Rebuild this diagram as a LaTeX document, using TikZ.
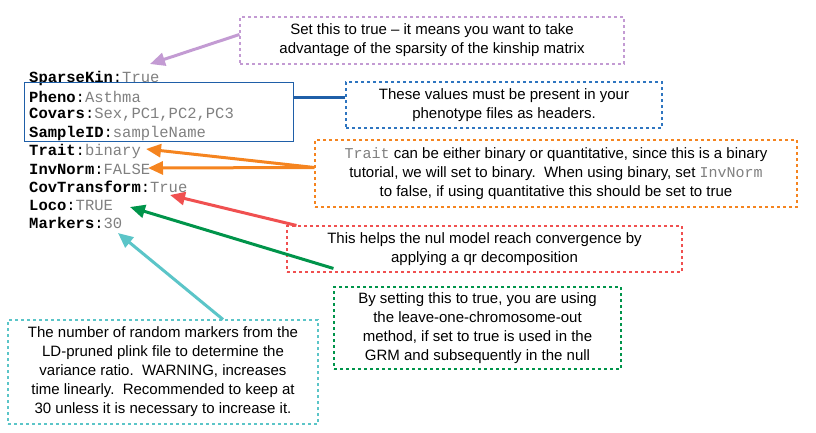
\documentclass[tikz,border=0pt]{standalone}
\usepackage{fontspec}
\setmainfont{Liberation Sans}
\setmonofont{Liberation Mono}
\usetikzlibrary{arrows.meta,positioning}
\definecolor{kinpurple}{HTML}{C39BD3}
\definecolor{hdrblue}{HTML}{1F5FA8}
\definecolor{hdrdot}{HTML}{2E75C0}
\definecolor{trorange}{HTML}{F5841F}
\definecolor{cvred}{HTML}{F05050}
\definecolor{locogreen}{HTML}{00944A}
\definecolor{mkteal}{HTML}{5BC5C8}
\newcommand{\key}[2]{\textbf{#1}:\textcolor{gray}{#2}}
\tikzset{
  code/.style={anchor=west, font=\ttfamily\fontsize{15.5}{17}\selectfont, inner sep=0pt},
  note/.style={draw, dash pattern=on 3pt off 3pt, line width=1.1pt, align=center,
    font=\fontsize{15}{19}\selectfont, inner sep=4pt},
  pointer/.style={line width=3pt, -{Triangle[length=15pt,width=13pt]}}
}
\begin{document}
\begin{tikzpicture}[x=1pt, y=-1pt]
    \useasboundingbox (0,0) rectangle (816,432);

    % code lines
    \node[code] (sparse) at (29, 78) {\key{SparseKin}{True}};
    \node[code] (pheno) at (29, 97) {\key{Pheno}{Asthma}};
    \node[code] (covars) at (29, 115) {\key{Covars}{Sex,PC1,PC2,PC3}};
    \node[code] (sample) at (29, 133) {\key{SampleID}{sampleName}};
    \node[code] (trait) at (29, 151) {\key{Trait}{binary}};
    \node[code] (invnorm) at (29, 169) {\key{InvNorm}{FALSE}};
    \node[code] (covtr) at (29, 187) {\key{CovTransform}{True}};
    \node[code] (loco) at (29, 205) {\key{Loco}{TRUE}};
    \node[code] (markers) at (29, 223) {\key{Markers}{30}};

    \draw[hdrblue, line width=1pt] (24, 82) rectangle (293, 141);
    \coordinate (hdrbox) at (293, 97);

    % notes
    \node[note, draw=kinpurple, minimum width=384pt, minimum height=47pt] (kinnote) at (432, 40.5)
        {Set this to true -- it means you want to take\\advantage of the sparsity of the kinship matrix};
    \node[note, draw=hdrdot, minimum width=316pt, minimum height=46pt] (hdrnote) at (504, 105)
        {These values must be present in your\\phenotype files as headers.};
    \node[note, draw=trorange, minimum width=482pt, minimum height=67pt] (trnote) at (556, 173.5)
        {\textcolor{gray}{\ttfamily Trait} can be either binary or quantitative, since this is a binary\\
         tutorial, we will set to binary.\ \ When using binary, set \textcolor{gray}{\ttfamily InvNorm}\\
         to false, if using quantitative this should be set to true};
    \node[note, draw=cvred, minimum width=395pt, minimum height=46pt] (cvnote) at (484.5, 249)
        {This helps the nul model reach convergence by\\applying a qr decomposition};
    \node[note, draw=locogreen, minimum width=287pt, minimum height=82pt] (loconote) at (477.5, 328)
        {By setting this to true, you are using\\the leave-one-chromosome-out\\method, if set to true is used in the\\GRM and subsequently in the null};
    \node[note, draw=mkteal, minimum width=310pt, minimum height=104pt] (mknote) at (163, 372)
        {The number of random markers from the\\LD-pruned plink file to determine the\\variance ratio.\ \ WARNING, increases\\time linearly.\ \ Recommended to keep at\\30 unless it is necessary to increase it.};

    % pointers
    \draw[pointer, kinpurple] ([yshift=6pt]kinnote.west) -- (150, 64);
    \draw[hdrblue, line width=3pt] (hdrnote.west |- hdrbox) -- (hdrbox);
    \draw[pointer, trorange] ([yshift=6pt]trnote.west) -- (146, 149);
    \draw[pointer, trorange] ([yshift=6pt]trnote.west) -- (148, 168);
    \draw[pointer, cvred] ([xshift=10pt]cvnote.north west) -- (170, 195);
    \draw[pointer, locogreen] ([yshift=18pt]loconote.north west) -- (130, 207);
    \draw[pointer, mkteal] ([xshift=60pt]mknote.north) -- (118, 233);
\end{tikzpicture}
\end{document}
